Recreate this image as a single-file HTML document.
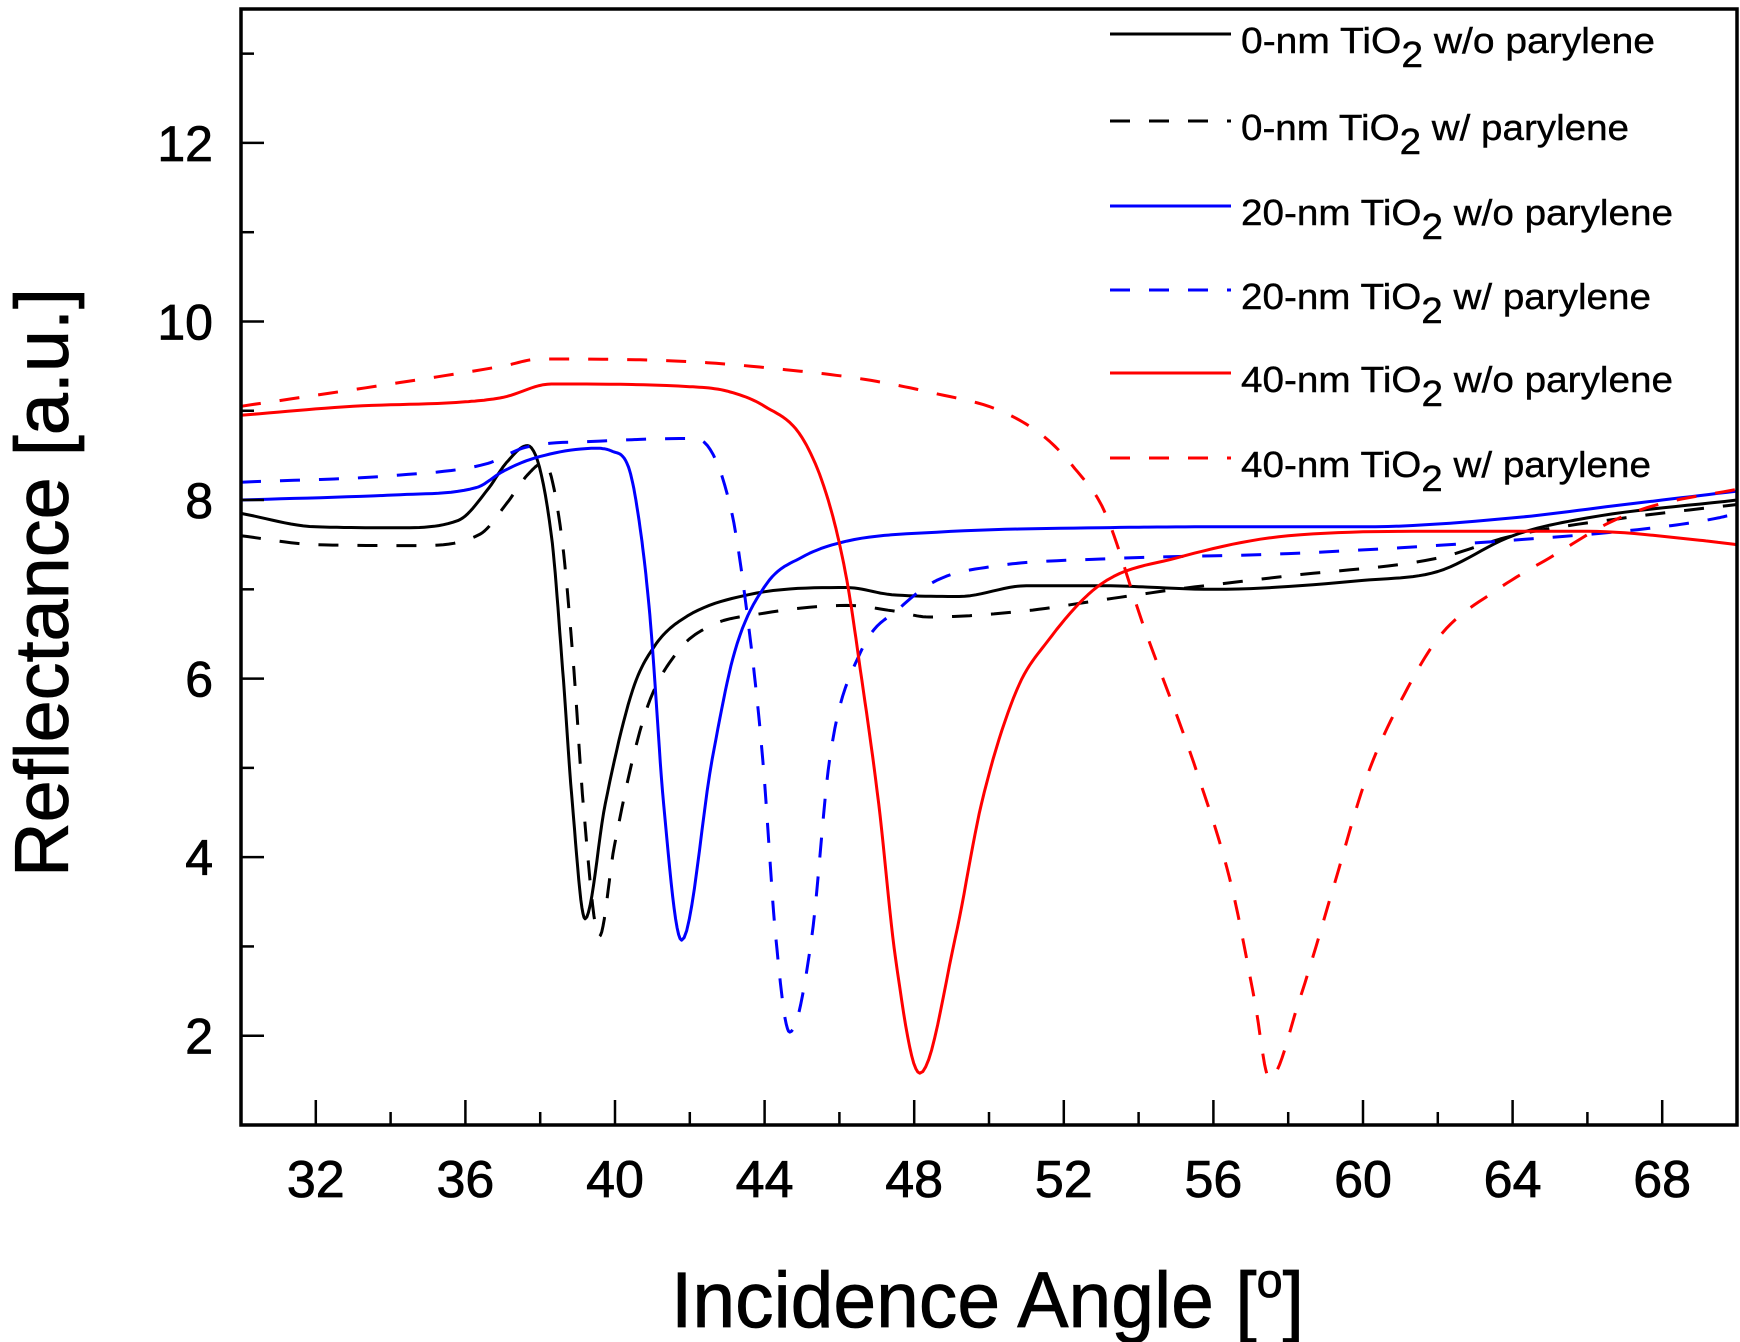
<!DOCTYPE html>
<html><head><meta charset="utf-8"><style>
html,body{margin:0;padding:0;background:#fff;}
svg{display:block;font-family:"Liberation Sans",sans-serif;}
</style></head><body>
<svg id="chart" width="1740" height="1342" viewBox="0 0 1740 1342" xmlns="http://www.w3.org/2000/svg">
<g id="plot"></g>
<g id="axes"></g>
<g id="legend"></g>
</svg>
<script>
const xTicks = [32,36,40,44,48,52,56,60,64,68];
const yTicks = [2,4,6,8,10,12];
const seriesNames = ["0-nm TiO2 w/o parylene","0-nm TiO2 w/ parylene","20-nm TiO2 w/o parylene","20-nm TiO2 w/ parylene","40-nm TiO2 w/o parylene","40-nm TiO2 w/ parylene"];
const k0x = [30,32,34.26,35.8,36.6,37.1,37.66,38.3,38.6,38.86,39.2,39.74,40.47,41.05,41.78,43.57,46.2,47.4,49.2,51,53,56,60,62,64,66,70];
const k0y = [7.85,7.7,7.69,7.77,8.12,8.42,8.61,7.6,6.1,4.6,3.31,4.6,5.87,6.36,6.66,6.94,7.02,6.94,6.92,7.04,7.04,7.0,7.1,7.2,7.6,7.8,8.0];
const k1x = [30,32,34.7,36.4,37.1,37.7,38.1,38.57,38.9,39.15,39.58,39.98,40.8,41.67,42.6,43.8,46.2,47.4,48.4,51,53,55,58,62,64,67,70];
const k1y = [7.6,7.5,7.49,7.62,7.96,8.3,8.42,7.6,6.1,4.6,3.11,4.12,5.6,6.3,6.6,6.72,6.82,6.76,6.69,6.76,6.88,7.0,7.15,7.35,7.6,7.8,7.95];
const b0x = [30,34.26,36.3,37,37.85,39.5,39.9,40.36,40.7,40.95,41.3,41.78,42.6,43.2,44.05,45,46.2,48.6,53,56,60,64,67,70];
const b0y = [8.0,8.06,8.14,8.32,8.47,8.58,8.55,8.37,7.6,6.62,4.6,3.07,5.1,6.3,7.06,7.36,7.54,7.64,7.69,7.7,7.7,7.8,7.95,8.1];
const b1x = [30,34.26,36.6,37.6,39.6,42.15,43.1,43.57,43.95,44.3,44.67,45.26,45.74,46.57,47.64,48.6,50.15,53,58,64,68,69.5,70];
const b1y = [8.2,8.28,8.41,8.59,8.66,8.69,7.9,6.6,5.1,3.1,2.04,3.1,5.1,6.3,6.8,7.1,7.26,7.34,7.4,7.55,7.7,7.8,7.85];
const r0x = [30,33,36,37,38.3,42,43,44,45.0,45.7,46.2,46.56,47.05,47.5,48.15,49.1,49.8,50.74,51.57,53,55,58,62,66,69,70];
const r0y = [8.95,9.05,9.1,9.15,9.3,9.27,9.22,9.05,8.7,8.0,7.1,6.1,4.6,2.87,1.58,3.1,4.6,5.87,6.42,7.06,7.35,7.6,7.65,7.65,7.55,7.5];
const r1x = [30,34,37,38,42,44.8,46.7,48.5,50.3,51.5,52.3,53.08,54.1,55.6,56.5,57.1,57.5,58.3,59.2,60.1,61.2,62.1,63.6,65.1,66.6,67.8,70];
const r1y = [9.05,9.3,9.5,9.58,9.55,9.45,9.35,9.2,9.0,8.7,8.35,7.88,6.63,4.9,3.65,2.4,1.52,2.4,3.65,4.9,5.9,6.5,7.0,7.38,7.75,7.94,8.12];

const NS="http://www.w3.org/2000/svg";
const L=241,R=1737,T=9,B=1125, XMIN=30,XMAX=70,YMIN=1,YMAX=13.5;
const sx=v=>L+(v-XMIN)/(XMAX-XMIN)*(R-L);
const sy=v=>B-(v-YMIN)/(YMAX-YMIN)*(B-T);
function mk(tag,attrs,parent){const e=document.createElementNS(NS,tag);for(const k in attrs)e.setAttribute(k,attrs[k]);parent.appendChild(e);return e;}

function monotone(xs,ys){
  const n=xs.length,d=[],m=new Array(n);
  for(let i=0;i<n-1;i++)d.push((ys[i+1]-ys[i])/(xs[i+1]-xs[i]));
  m[0]=d[0];m[n-1]=d[n-2];
  for(let i=1;i<n-1;i++)m[i]=(d[i-1]*d[i]<=0)?0:(d[i-1]+d[i])/2;
  for(let i=0;i<n-1;i++){if(d[i]===0){m[i]=0;m[i+1]=0;continue;}
    const a=m[i]/d[i],b=m[i+1]/d[i],s=a*a+b*b;if(s>9){const t=3/Math.sqrt(s);m[i]=t*a*d[i];m[i+1]=t*b*d[i];}}
  let p="";
  for(let i=0;i<n-1;i++){const h=xs[i+1]-xs[i];
    for(let j=0;j<12;j++){const t=j/12,t2=t*t,t3=t2*t;
      const y=(2*t3-3*t2+1)*ys[i]+(t3-2*t2+t)*h*m[i]+(-2*t3+3*t2)*ys[i+1]+(t3-t2)*h*m[i+1];
      const x=xs[i]+t*h;p+=(p?"L":"M")+sx(x).toFixed(1)+","+sy(y).toFixed(1);}}
  p+="L"+sx(xs[n-1]).toFixed(1)+","+sy(ys[n-1]).toFixed(1);
  return p;
}
const plot=document.getElementById('plot');
const series=[[k0x,k0y,"#000",false,"series-0nm-without-parylene"],[k1x,k1y,"#000",true,"series-0nm-with-parylene"],
[b0x,b0y,"#0000ff",false,"series-20nm-without-parylene"],[b1x,b1y,"#0000ff",true,"series-20nm-with-parylene"],
[r0x,r0y,"#ff0000",false,"series-40nm-without-parylene"],[r1x,r1y,"#ff0000",true,"series-40nm-with-parylene"]];
series.forEach(s=>{
  const p=mk('path',{d:monotone(s[0],s[1]),fill:"none",stroke:s[2],"stroke-width":3,"stroke-linejoin":"round"},plot);
  if(s[3])p.setAttribute('stroke-dasharray','20 19');
  
  
});

const axes=document.getElementById('axes');
const frame=mk('rect',{x:L,y:T,width:R-L,height:B-T,fill:"none",stroke:"#000","stroke-width":3.5},axes);


for(let v=32;v<=68;v+=2){const major=(v%4===0);
  const t=mk('line',{x1:sx(v),x2:sx(v),y1:B,y2:B-(major?25:13),stroke:"#000","stroke-width":2.5},axes);
  
  }
for(let v=2;v<=13;v++){const major=(v%2===0);
  const t=mk('line',{x1:L,x2:L+(major?23:13),y1:sy(v),y2:sy(v),stroke:"#000","stroke-width":2.5},axes);
  
  }
xTicks.forEach(v=>{const t=mk('text',{x:sx(v),y:1197,"text-anchor":"middle","font-size":52,stroke:"#000","stroke-width":0.8},axes);t.textContent=v;
  
  });
yTicks.forEach(v=>{const t=mk('text',{x:213,y:sy(v)+18,"text-anchor":"end","font-size":50,stroke:"#000","stroke-width":0.8},axes);t.textContent=v;
  
  });
const xt=mk('text',{x:671,y:1327,"font-size":79,textLength:633,lengthAdjust:"spacingAndGlyphs",stroke:"#000","stroke-width":0.8},axes);
xt.innerHTML='Incidence Angle [<tspan dy="-30" font-size="48">o</tspan><tspan dy="30">]</tspan>';


const yt=mk('text',{x:0,y:0,"font-size":76,textLength:589,lengthAdjust:"spacingAndGlyphs",transform:"translate(68,877) rotate(-90)",stroke:"#000","stroke-width":0.8},axes);
yt.textContent='Reflectance [a.u.]';



const lg=document.getElementById('legend');
const rowsY=[34,121,206,290,373,458];
const labelW=[414,388,432,410,432,410];
seriesNames.forEach((name,i)=>{
  const s=series[i];
  const ln=mk('line',{x1:1110,x2:1231,y1:rowsY[i],y2:rowsY[i],stroke:s[2],"stroke-width":3},lg);
  if(s[3])ln.setAttribute('stroke-dasharray','20 19');
  
  
  const parts=name.split("TiO2");
  const t=mk('text',{x:1241,y:rowsY[i]+19,"font-size":36,textLength:labelW[i],lengthAdjust:"spacingAndGlyphs",stroke:"#000","stroke-width":0.4},lg);
  t.innerHTML=parts[0]+'TiO<tspan dy="14">2</tspan><tspan dy="-14">'+parts[1]+'</tspan>';
  
  
});
</script>
</body></html>
